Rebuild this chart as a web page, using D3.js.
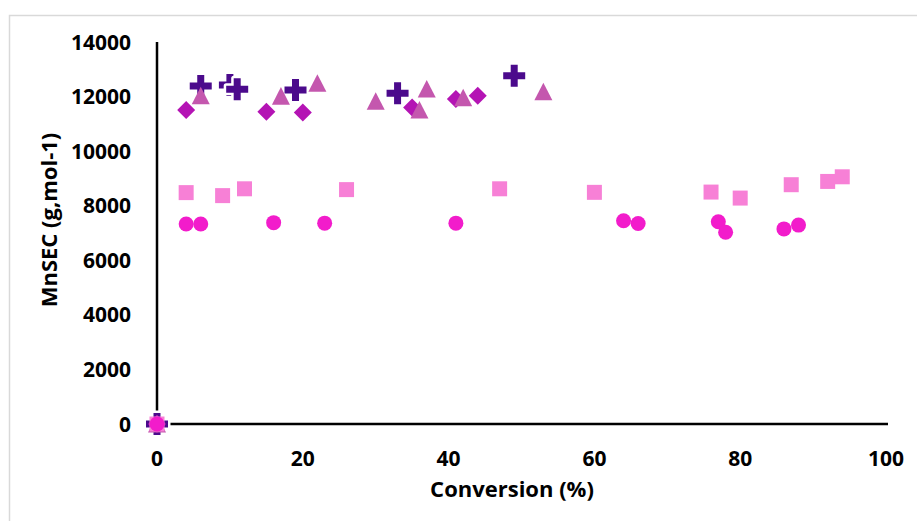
<!DOCTYPE html>
<html>
<head>
<meta charset="utf-8">
<script src="https://cdn.jsdelivr.net/npm/d3@7"></script>
<style>
  body { margin: 0; background: #fff; }
  text { font-family: "Open Sans", Lato, sans-serif; font-weight: 700; fill: #000; }
</style>
</head>
<body>
<div id="chart"></div>
<script>
// data (x = conversion %, y = MnSEC)
var plusX = [0, 6, 10, 11, 19, 33, 49];
var plusY = [0, 12390, 12420, 12270, 12240, 12120, 12760];
var diamondX = [0, 4, 15, 20, 35, 41, 44];
var diamondY = [0, 11510, 11440, 11420, 11600, 11910, 12030];
var triangleX = [0, 6, 17, 22, 30, 36, 37, 42, 53];
var triangleY = [0, 12030, 12020, 12490, 11830, 11510, 12280, 11960, 12180];
var squareX = [0, 4, 9, 12, 26, 47, 60, 76, 80, 87, 92, 94];
var squareY = [0, 8480, 8370, 8620, 8590, 8620, 8490, 8500, 8280, 8770, 8890, 9060];
var circleX = [0, 4, 6, 16, 23, 41, 64, 66, 77, 78, 86, 88];
var circleY = [0, 7330, 7330, 7380, 7360, 7360, 7450, 7350, 7410, 7030, 7150, 7290];

var xTicks = [0, 20, 40, 60, 80, 100];
var yTicks = [0, 2000, 4000, 6000, 8000, 10000, 12000, 14000];

function init() {
    drawChart();
}

function zip(xs, ys) {
    return xs.map(function(d, i) { return [d, ys[i]]; });
}

function drawChart() {
    var width = 917, height = 521;

    var svg = d3.select("#chart").append("svg")
        .attr("width", width)
        .attr("height", height);

    // light frame of the chart area
    svg.append("rect")
        .attr("x", 9.5).attr("y", 15.5)
        .attr("width", 1000).attr("height", 1000)
        .attr("fill", "none")
        .attr("stroke", "#d9d9d9")
        .attr("stroke-width", 1.5);

    var x = d3.scaleLinear().domain([0, 100]).range([157, 886]);
    var y = d3.scaleLinear().domain([0, 14000]).range([424, 42]);

    // tick labels
    svg.append("g").selectAll("text")
        .data(yTicks).enter().append("text")
        .attr("x", 131)
        .attr("y", function(d) { return y(d); })
        .attr("dy", "0.36em")
        .attr("text-anchor", "end")
        .attr("font-size", "21px")
        .text(function(d) { return d; });

    svg.append("g").selectAll("text")
        .data(xTicks).enter().append("text")
        .attr("x", function(d) { return x(d); })
        .attr("y", 466)
        .attr("text-anchor", "middle")
        .attr("font-size", "21px")
        .text(function(d) { return d; });

    // axis lines
    svg.append("line")
        .attr("x1", x(0)).attr("x2", x(0))
        .attr("y1", y(14000)).attr("y2", y(0))
        .attr("stroke", "#000").attr("stroke-width", 2.5);
    svg.append("line")
        .attr("x1", x(0)).attr("x2", x(100) + 2)
        .attr("y1", y(0)).attr("y2", y(0))
        .attr("stroke", "#000").attr("stroke-width", 2.5);

    // titles
    svg.append("text")
        .attr("x", 512).attr("y", 497)
        .attr("text-anchor", "middle")
        .attr("font-size", "22px")
        .text("Conversion (%)");
    svg.append("text")
        .attr("transform", "translate(57,220) rotate(-90)")
        .attr("text-anchor", "middle")
        .attr("font-size", "22px")
        .text("MnSEC (g,mol-1)");

    // marker shapes
    var plusPath = "M-3.5,-11H3.5V-3.5H11V3.5H3.5V11H-3.5V3.5H-11V-3.5H-3.5Z";
    var diamondPath = "M0,-9L9,0L0,9L-9,0Z";
    var trianglePath = "M0,-9L9,8.6L-9,8.6Z";
    var squarePath = "M-7.5,-7.5H7.5V7.5H-7.5Z";

    var g = svg.append("g");

    function addSeries(data, path, color, halo) {
        g.append("g").selectAll("path")
            .data(data).enter().append("path")
            .attr("d", path)
            .attr("transform", function(d) { return "translate(" + x(d[0]) + "," + y(d[1]) + ")"; })
            .attr("fill", color)
            .attr("stroke", halo ? "#fff" : "none")
            .attr("stroke-width", halo ? 5 : 0)
            .attr("stroke-linejoin", "round")
            .attr("paint-order", "stroke");
    }

    addSeries(zip(plusX, plusY), plusPath, "#4b0a8c", true);
    addSeries(zip(diamondX, diamondY), diamondPath, "#b414b4", false);
    addSeries(zip(triangleX, triangleY), trianglePath, "#c457ae", false);
    addSeries(zip(squareX, squareY), squarePath, "#f780d6", false);

    g.append("g").selectAll("circle")
        .data(zip(circleX, circleY)).enter().append("circle")
        .attr("cx", function(d) { return x(d[0]); })
        .attr("cy", function(d) { return y(d[1]); })
        .attr("r", 7.5)
        .attr("fill", "#f21ccb");
}

init();
</script>
</body>
</html>
